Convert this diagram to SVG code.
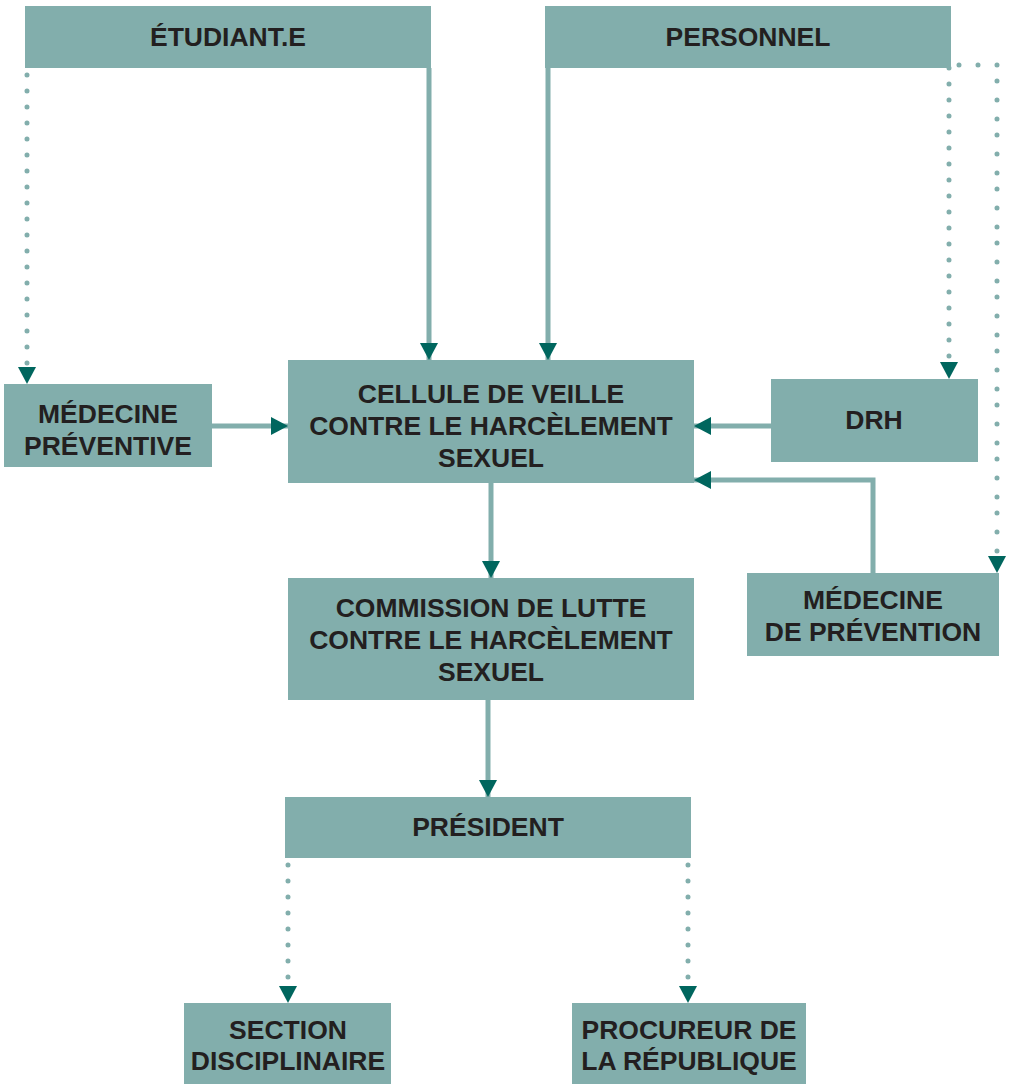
<svg xmlns="http://www.w3.org/2000/svg" width="1013" height="1084" viewBox="0 0 1013 1084">
<defs>
<style>
.box{fill:#82aeac;}
.t{font-family:"Liberation Sans",Arial,sans-serif;font-weight:bold;font-size:26.5px;fill:#231f20;text-anchor:middle;}
.solid{fill:none;stroke:#82aeac;stroke-width:5;}
.dot{fill:none;stroke:#82aeac;stroke-width:5;stroke-linecap:round;stroke-dasharray:0 16;}
</style>
<marker id="ah" markerUnits="userSpaceOnUse" markerWidth="18" markerHeight="18" viewBox="0 0 18 18" refX="17" refY="9" orient="auto">
<path d="M0,0 L17,9 L0,18 Z" fill="#00665e"/>
</marker>
</defs>
<rect width="1013" height="1084" fill="#ffffff"/>
<g id="connectors">
<path class="solid" d="M429,68 V360" marker-end="url(#ah)"/>
<path class="solid" d="M548,68 V360" marker-end="url(#ah)"/>
<path class="dot" d="M27,75 V368"/>
<path d="M18,367 L36,367 L27,384 Z" fill="#00665e"/>
<path class="dot" d="M949,68 V365"/>
<path d="M940,362 L958,362 L949,379 Z" fill="#00665e"/>
<path class="dot" d="M959,65 H997 V556" style="stroke-dasharray:0 19 0 19 0 16"/>
<path d="M988,556 L1006,556 L997,573 Z" fill="#00665e"/>
<path class="solid" d="M212,426 H288" marker-end="url(#ah)"/>
<path class="solid" d="M771,426 H694" marker-end="url(#ah)"/>
<path class="solid" d="M873,573 V480 H694" marker-end="url(#ah)"/>
<path class="solid" d="M491,483 V578" marker-end="url(#ah)"/>
<path class="solid" d="M488,700 V797" marker-end="url(#ah)"/>
<path class="dot" d="M288,865 V985"/>
<path d="M279,986 L297,986 L288,1003 Z" fill="#00665e"/>
<path class="dot" d="M688,865 V985"/>
<path d="M679,986 L697,986 L688,1003 Z" fill="#00665e"/>
</g>
<g id="etudiant"><rect class="box" x="25" y="6" width="406" height="62"/><text class="t" x="228" y="46">ÉTUDIANT.E</text></g>
<g id="personnel"><rect class="box" x="545" y="6" width="406" height="62"/><text class="t" x="748" y="46">PERSONNEL</text></g>
<g id="medecine-preventive"><rect class="box" x="4" y="384" width="208" height="83"/><text class="t" x="108" y="423">MÉDECINE</text><text class="t" x="108" y="455">PRÉVENTIVE</text></g>
<g id="cellule"><rect class="box" x="288" y="360" width="406" height="123"/><text class="t" x="491" y="403">CELLULE DE VEILLE</text><text class="t" x="491" y="435">CONTRE LE HARCÈLEMENT</text><text class="t" x="491" y="467">SEXUEL</text></g>
<g id="drh"><rect class="box" x="771" y="379" width="207" height="83"/><text class="t" x="874" y="429">DRH</text></g>
<g id="commission"><rect class="box" x="288" y="578" width="406" height="122"/><text class="t" x="491" y="617">COMMISSION DE LUTTE</text><text class="t" x="491" y="649">CONTRE LE HARCÈLEMENT</text><text class="t" x="491" y="681">SEXUEL</text></g>
<g id="medecine-prevention"><rect class="box" x="747" y="573" width="252" height="83"/><text class="t" x="873" y="609">MÉDECINE</text><text class="t" x="873" y="641">DE PRÉVENTION</text></g>
<g id="president"><rect class="box" x="285" y="797" width="406" height="61"/><text class="t" x="488" y="836">PRÉSIDENT</text></g>
<g id="section"><rect class="box" x="184" y="1003" width="207" height="81"/><text class="t" x="288" y="1039">SECTION</text><text class="t" x="288" y="1070">DISCIPLINAIRE</text></g>
<g id="procureur"><rect class="box" x="572" y="1003" width="234" height="81"/><text class="t" x="689" y="1039">PROCUREUR DE</text><text class="t" x="689" y="1070">LA RÉPUBLIQUE</text></g>
</svg>
